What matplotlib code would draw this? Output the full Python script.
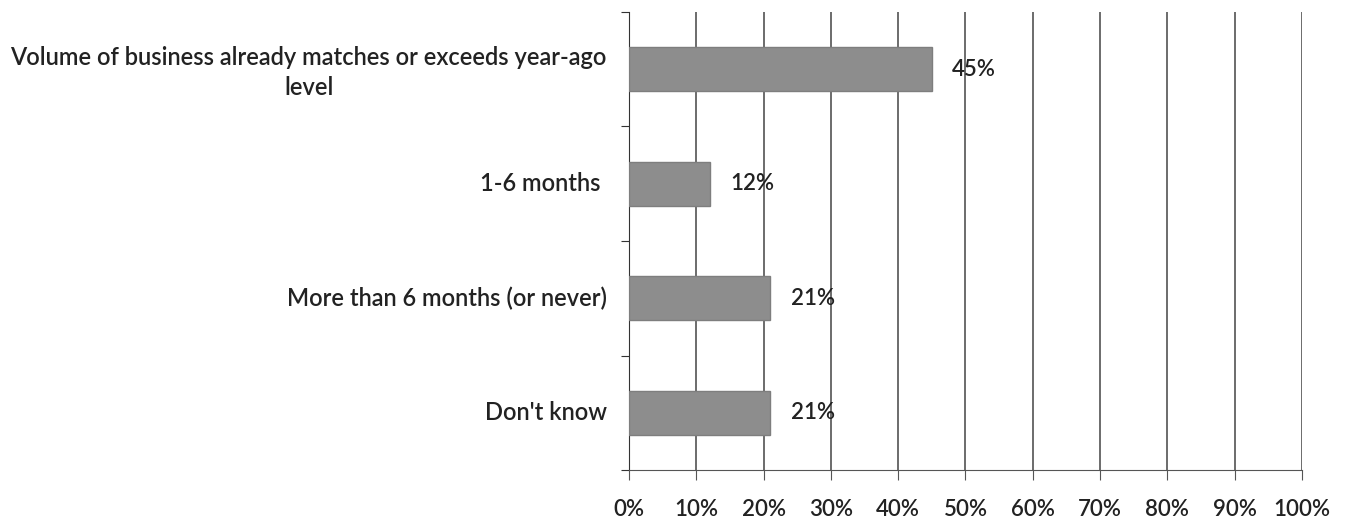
import matplotlib.pyplot as plt
from matplotlib.ticker import FixedLocator

categories = ["Volume of business already matches or exceeds year-ago\nlevel",
              "1-6 months ",
              "More than 6 months (or never)",
              "Don't know"]
values = [45, 12, 21, 21]
xticks = list(range(0, 101, 10))

plt.rcParams['font.family'] = ['Lato', 'DejaVu Sans']

fig = plt.figure(figsize=(13.46, 5.19), dpi=100)
ax = fig.add_axes([0.4673, 0.0944, 0.5, 0.8825])

ypos = list(range(len(categories)))
ax.barh(ypos, values, height=0.385, color='#8d8d8d', edgecolor='#7e7e7e',
        linewidth=1, zorder=3)

for y, v in zip(ypos, values):
    ax.text(v + 3, y, "{0}%".format(v), va='center', ha='left',
            fontsize=16, fontweight='semibold', color='#222222', zorder=4)

ax.set_xlim(0, 100)
ax.set_ylim(3.5, -0.5)
ax.set_xticks(xticks)
ax.set_xticklabels(["{0}%".format(t) for t in xticks], fontsize=16,
                   fontweight='semibold', color='#222222')

# category labels placed as text so multiline stays centered
ax.yaxis.set_major_locator(FixedLocator([-0.5, 0.5, 1.5, 2.5, 3.5]))
ax.set_yticklabels([])
for y, c in zip(ypos, categories):
    # the wrapped label sits a little low in the original
    dy = 0.03 if "\n" in c else 0
    ax.text(-3.3, y + dy, c, ha='right', va='center', multialignment='center',
            fontsize=17, fontweight='semibold', color='#222222',
            clip_on=False, linespacing=1.4)

ax.grid(axis='x', color='#444444', linewidth=1.1, zorder=0)
ax.spines['top'].set_visible(False)
ax.spines['right'].set_visible(False)
ax.spines['left'].set_color('#333333')
ax.spines['bottom'].set_color('#555555')
ax.tick_params(axis='x', length=7, color='#555555', pad=14)
ax.tick_params(axis='y', length=6, color='#333333')

fig.savefig("out.png", dpi=100, facecolor='white')
